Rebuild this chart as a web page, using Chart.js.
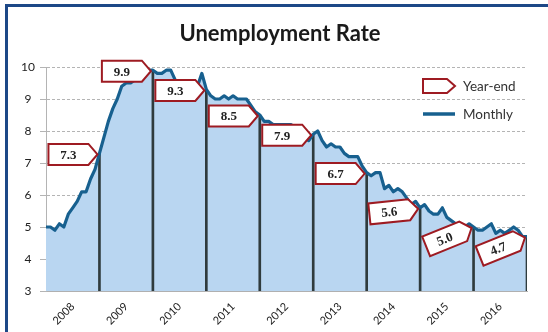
<!DOCTYPE html>
<html lang="en">
<head>
<meta charset="utf-8">
<title>Unemployment Rate</title>
<script src="https://cdn.jsdelivr.net/npm/chart.js@4.4.1/dist/chart.umd.min.js"></script>
<style>
  html, body { margin: 0; padding: 0; background: #fff; }
  .wrap { position: relative; width: 548px; height: 332px; overflow: hidden; }
  .wrap canvas { position: absolute; left: 0; top: 0; }
  /* blue frame on the left/top edge of the panel */
  .frame {
    position: absolute; left: 5px; top: 4px; width: 600px; height: 325px;
    border-left: 3px solid #1d4887; border-top: 3px solid #1d4887;
    border-bottom: 1px solid #d6d6d6; pointer-events: none;
  }
</style>
</head>
<body>
<div class="wrap">
  <canvas id="unemploymentChart" width="548" height="332"></canvas>
  <div class="frame"></div>
</div>
<script>
// Monthly unemployment rate (%), Dec 2007 -> Dec 2016
const monthlyRates = [
  5.0,
  5.0, 4.9, 5.1, 5.0, 5.4, 5.6, 5.8, 6.1, 6.1, 6.5, 6.8, 7.3, // 2008
  7.8, 8.3, 8.7, 9.0, 9.4, 9.5, 9.5, 9.6, 9.8, 10.0, 9.9, 9.9, // 2009
  9.8, 9.8, 9.9, 9.9, 9.6, 9.4, 9.4, 9.5, 9.5, 9.4, 9.8, 9.3, // 2010
  9.1, 9.0, 9.0, 9.1, 9.0, 9.1, 9.0, 9.0, 9.0, 8.8, 8.6, 8.5, // 2011
  8.3, 8.3, 8.2, 8.2, 8.2, 8.2, 8.2, 8.1, 7.8, 7.8, 7.7, 7.9, // 2012
  8.0, 7.7, 7.5, 7.6, 7.5, 7.5, 7.3, 7.2, 7.2, 7.2, 6.9, 6.7, // 2013
  6.6, 6.7, 6.7, 6.2, 6.3, 6.1, 6.2, 6.1, 5.9, 5.7, 5.8, 5.6, // 2014
  5.7, 5.5, 5.4, 5.4, 5.6, 5.3, 5.2, 5.1, 5.0, 5.0, 5.1, 5.0, // 2015
  4.9, 4.9, 5.0, 5.1, 4.8, 4.9, 4.8, 4.9, 5.0, 4.9, 4.7, 4.7  // 2016
];

const yearLabels = ['2008', '2009', '2010', '2011', '2012', '2013', '2014', '2015', '2016'];

// December value of each year (shown in the callouts)
const yearEndRates = [7.3, 9.9, 9.3, 8.5, 7.9, 6.7, 5.6, 5.0, 4.7];

const yTicks = [3, 4, 5, 6, 7, 8, 9, 10];

const LINE_BLUE = '#17608f';
const AREA_BLUE = '#b9d6f1';
const CALLOUT_RED = '#9e1b22';
const FONT = 'Lato, "Open Sans", sans-serif';

/**
 * Pentagon (box with an arrow tip on the right), tip at (0, 0)
 */
function calloutPath(ctx, w, h, tip) {
    ctx.beginPath();
    ctx.moveTo(0, 0);
    ctx.lineTo(-tip, -h / 2);
    ctx.lineTo(-tip - w, -h / 2);
    ctx.lineTo(-tip - w, h / 2);
    ctx.lineTo(-tip, h / 2);
    ctx.closePath();
}

/**
 * Year-end value boxes pointing at the December data point
 */
const yearEndCallouts = {
    id: 'yearEndCallouts',
    afterDatasetsDraw(chart, args, opts) {
        const { ctx, scales: { x, y } } = chart;
        yearEndRates.forEach((rate, i) => {
            const px = x.getPixelForValue(12 * (i + 1));
            const py = y.getPixelForValue(rate);

            ctx.save();
            ctx.translate(px + opts.dx, py + opts.dy);
            ctx.rotate((opts.tilt[i] || 0) * Math.PI / 180);

            calloutPath(ctx, opts.width, opts.height, opts.tip);
            ctx.fillStyle = '#fff';
            ctx.fill();
            ctx.lineWidth = 2;
            ctx.lineJoin = 'miter';
            ctx.strokeStyle = CALLOUT_RED;
            ctx.stroke();

            ctx.fillStyle = '#222';
            ctx.font = 'bold 13px "Liberation Serif", serif';
            ctx.textAlign = 'center';
            ctx.textBaseline = 'middle';
            ctx.fillText(rate.toFixed(1), -opts.tip - opts.width / 2, 1);
            ctx.restore();
        });
    }
};

/**
 * Title and legend (upper right corner of the plot)
 */
const titleAndLegend = {
    id: 'titleAndLegend',
    afterDraw(chart, args, opts) {
        const { ctx } = chart;
        const left = opts.legendX;
        const top = opts.legendY;

        ctx.save();
        ctx.fillStyle = '#1a1a1a';
        ctx.font = 'bold 22px ' + FONT;
        ctx.textAlign = 'center';
        ctx.textBaseline = 'middle';
        ctx.fillText(opts.title, opts.titleX, opts.titleY);
        ctx.restore();

        ctx.save();
        // Year-end marker
        ctx.translate(left + 32, top);
        calloutPath(ctx, 24, 14, 8);
        ctx.fillStyle = '#fff';
        ctx.fill();
        ctx.lineWidth = 2;
        ctx.strokeStyle = CALLOUT_RED;
        ctx.stroke();
        ctx.restore();

        ctx.save();
        // Monthly line
        ctx.beginPath();
        ctx.moveTo(left, top + opts.gap);
        ctx.lineTo(left + 32, top + opts.gap);
        ctx.lineWidth = 3.5;
        ctx.strokeStyle = LINE_BLUE;
        ctx.stroke();

        ctx.fillStyle = '#333';
        ctx.font = '13.5px ' + FONT;
        ctx.textAlign = 'left';
        ctx.textBaseline = 'middle';
        ctx.fillText('Year-end', left + 40, top + 1);
        ctx.fillText('Monthly', left + 40, top + opts.gap + 1);
        ctx.restore();
    }
};

const ctx = document.getElementById('unemploymentChart');

new Chart(ctx, {
    type: 'line',
    data: {
        datasets: [{
            label: 'Monthly',
            data: monthlyRates.map((v, i) => ({ x: i, y: v })),
            borderColor: LINE_BLUE,
            borderWidth: 3.2,
            backgroundColor: AREA_BLUE,
            fill: 'start',
            pointRadius: 0,
            tension: 0,
            borderJoinStyle: 'round',
            order: 0
        }, {
            type: 'bar',
            label: 'Year-end',
            data: yearEndRates.map((v, i) => ({ x: 12 * (i + 1), y: v })),
            backgroundColor: '#2f3b3d',
            barThickness: 2,
            order: 1
        }]
    },
    options: {
        responsive: false,
        animation: false,
        events: [],
        layout: {
            padding: { left: 8, right: 21, top: 67, bottom: 0 }
        },
        scales: {
            x: {
                type: 'linear',
                min: 0,
                max: monthlyRates.length - 1,
                offset: false,
                afterBuildTicks: (scale) => {
                    // one label in the middle of each year
                    scale.ticks = yearLabels.map((label, i) => ({ value: 6 + 12 * i }));
                },
                afterFit: (scale) => { scale.height = 41; },
                grid: { display: false, drawTicks: false },
                border: { display: true, color: '#b0b0b0', width: 1 },
                ticks: {
                    autoSkip: false,
                    minRotation: 45,
                    maxRotation: 45,
                    padding: 9,
                    color: '#222',
                    font: { family: FONT, size: 11 },
                    callback: (value, index) => yearLabels[index]
                }
            },
            y: {
                min: yTicks[0],
                max: yTicks[yTicks.length - 1],
                afterBuildTicks: (scale) => {
                    scale.ticks = yTicks.map(v => ({ value: v }));
                },
                afterFit: (scale) => { scale.width = 38; },
                grid: {
                    color: '#b4b4b4',
                    lineWidth: 1,
                    tickLength: 6
                },
                border: { display: true, color: '#b4b4b4', dash: [3, 2] },
                ticks: {
                    crossAlign: 'center',
                    padding: 5,
                    color: '#222',
                    font: { family: FONT, size: 12 }
                }
            }
        },
        plugins: {
            filler: { drawTime: 'beforeDatasetsDraw' },
            legend: { display: false },
            tooltip: { enabled: false },
            title: { display: false },
            yearEndCallouts: {
                dx: -2,
                dy: 1,
                width: 40,
                height: 21,
                tip: 9,
                tilt: [0, 0, 0, 0, 0, 0, -6, -22, -22]
            },
            titleAndLegend: {
                title: 'Unemployment Rate',
                titleX: 280,
                titleY: 34,
                legendX: 423,
                legendY: 86,
                gap: 28
            }
        }
    },
    plugins: [yearEndCallouts, titleAndLegend]
});
</script>
</body>
</html>
